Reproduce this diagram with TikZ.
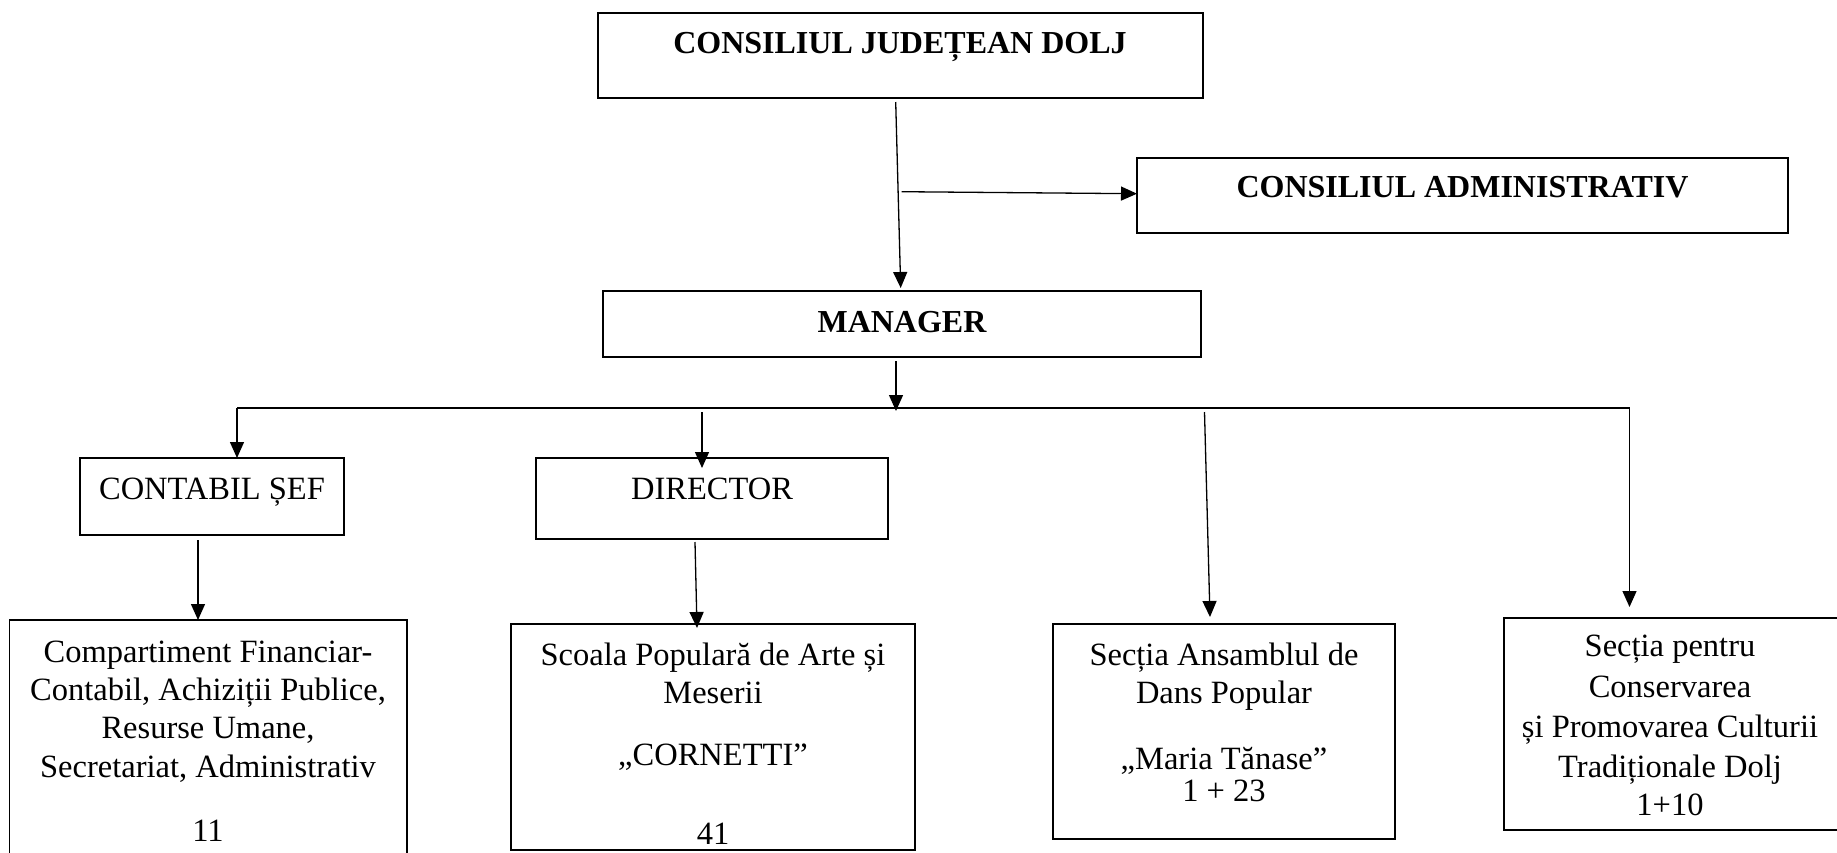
\documentclass[tikz,border=0pt]{standalone}
\usepackage{fontspec}
\setmainfont{Liberation Serif}
\usetikzlibrary{arrows.meta}

\begin{document}
\begin{tikzpicture}[x=0.5pt,y=-0.5pt,
		box/.style={draw, line width=0.7pt, inner sep=0pt, outer sep=0pt, anchor=north west},
		txt/.style={anchor=base, inner sep=0pt, font=\fontsize{16.25}{19}\selectfont},
		btxt/.style={anchor=base, inner sep=0pt, font=\fontsize{16}{19}\selectfont\bfseries},
		ln/.style={line width=0.65pt},
		arr/.style={ln, -{Triangle[length=8pt,width=7pt]}}]
		\useasboundingbox (0,0) rectangle (1837,852);
		\clip (0,0) rectangle (1837,852);

		%Nivel sus
		\node[box, minimum width=302.5pt, minimum height=42.5pt] (cjd) at (598,13) {};
		\node[btxt] (cjdT) at (900,53) {CONSILIUL JUDEȚEAN DOLJ};
		\node[box, minimum width=325.5pt, minimum height=37.5pt] (ca) at (1137,158) {};
		\node[btxt] (caT) at (1462.5,197) {CONSILIUL ADMINISTRATIV};
		\node[box, minimum width=299pt, minimum height=33pt] (man) at (603,291) {};
		\node[btxt] (manT) at (902,332) {MANAGER};

		\coordinate (cjdMid) at (901.7,191.7);
		\draw[arr] ([xshift=-2.4pt,yshift=-2pt]cjd.south) -- ([xshift=-0.65pt,yshift=1.5pt]man.north);
		\draw[arr] (cjdMid) -- ([yshift=0.9pt]ca.west);

		%Magistrala
		\coordinate (busL) at (237,408);
		\coordinate (busR) at (1629.5,408);
		\coordinate (dirIn) at (702,412);
		\coordinate (ansIn) at (1204.5,412);
		\draw[ln] (busL) -- (busR);
		\draw[arr] ([xshift=-3pt,yshift=-2pt]man.south) -- ([xshift=-3pt,yshift=-1.5pt]man.south |- busL);

		%Contabil si director
		\node[box, minimum width=132pt, minimum height=38.5pt] (cont) at (80,458) {};
		\node[txt] (contT) at (212,499) {CONTABIL ȘEF};
		\node[box, minimum width=176pt, minimum height=40.5pt] (dir) at (536,458) {};
		\node[txt] (dirT) at (712,499) {DIRECTOR};
		\draw[arr] (busL) -- (busL |- cont.north);
		\draw[arr] (dirIn) -- ([yshift=-5pt]dirIn |- dir.north);

		%Compartimente
		\node[box, minimum width=198.75pt, minimum height=125pt] (comp) at (9.5,620) {};
		\node[box, minimum width=202pt, minimum height=113pt] (scoala) at (511,624) {};
		\node[box, minimum width=171pt, minimum height=107.5pt] (ansamblu) at (1053,624) {};
		\node[box, minimum width=200pt, minimum height=106pt] (conserv) at (1504,618) {};

		\foreach \t/\y [count=\i] in {Compartiment Financiar-/662, {Contabil, Achiziții Publice,}/700, {Resurse Umane,}/738, {Secretariat, Administrativ}/777, 11/841}
			\node[txt] (comp\i) at (208,\y) {\t};
		\foreach \t/\y [count=\i] in {Scoala Populară de Arte și/665, Meserii/703, „CORNETTI”/765, 41/844}
			\node[txt] (scoala\i) at (713,\y) {\t};
		\foreach \t/\y [count=\i] in {Secția Ansamblul de/665, Dans Popular/703, „Maria Tănase”/769, 1 + 23/801}
			\node[txt] (ansamblu\i) at (1224,\y) {\t};
		\foreach \t/\y [count=\i] in {Secția pentru/656, Conservarea/697, și Promovarea Culturii/737, Tradiționale Dolj/777, 1+10/815}
			\node[txt] (conserv\i) at (1670,\y) {\t};

		\draw[arr] ([xshift=-7pt,yshift=-2.5pt]cont.south) -- ([xshift=-7pt]cont.south |- comp.north);
		\draw[arr] ([xshift=-8.5pt,yshift=-1.5pt]dir.south) -- ([xshift=-8pt,yshift=-2pt]scoala.north);
		\draw[arr] (ansIn) -- ([xshift=-7pt,yshift=3.5pt]ansamblu.north);
		\draw[arr] (busR) -- ([yshift=5.5pt]busR |- conserv.north);
	\end{tikzpicture}
\end{document}
